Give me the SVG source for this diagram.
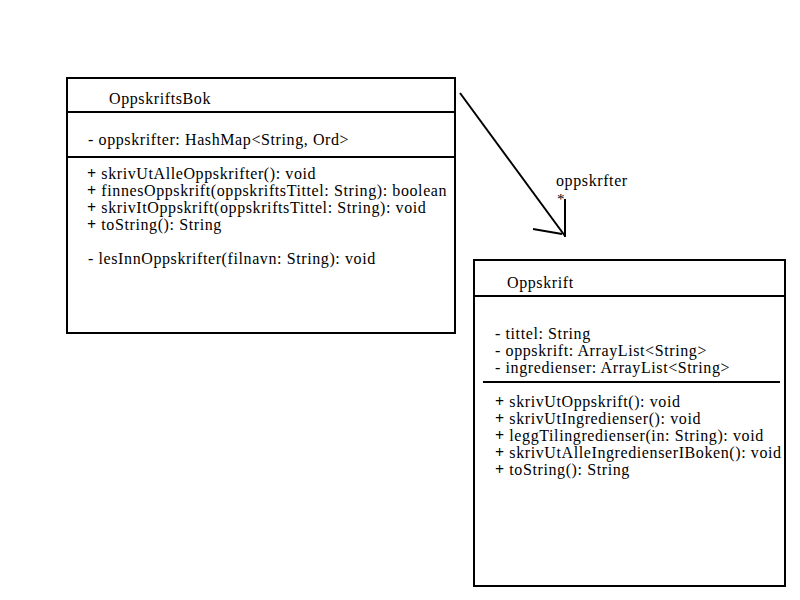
<svg xmlns="http://www.w3.org/2000/svg" width="800" height="600" viewBox="0 0 800 600">
  <style>
    .box { fill: #ffffff; stroke: #000000; stroke-width: 2; }
    .sep { stroke: #000000; stroke-width: 2; fill: none; }
    .t { font-family: "Liberation Serif", "DejaVu Serif", serif; font-size: 16px; letter-spacing: 0.6px; fill: #000000; }
    .p { font-weight: bold; }
    .edge { stroke: #000000; stroke-width: 2; fill: none; }
  </style>
  <rect x="0" y="0" width="800" height="600" fill="#ffffff"/>

  <g id="OppskriftsBok">
    <rect class="box" x="67" y="78" width="388" height="255"/>
    <line class="sep" x1="67" y1="112" x2="455" y2="112"/>
    <line class="sep" x1="67" y1="157" x2="455" y2="157"/>
    <text class="t" x="109" y="104">OppskriftsBok</text>
    <text class="t" x="88" y="145">- oppskrifter: HashMap&lt;String, Ord&gt;</text>
    <text class="t" x="87" y="179"><tspan class="p">+</tspan> skrivUtAlleOppskrifter(): void</text>
    <text class="t" x="87" y="196"><tspan class="p">+</tspan> finnesOppskrift(oppskriftsTittel: String): boolean</text>
    <text class="t" x="87" y="213"><tspan class="p">+</tspan> skrivItOppskrift(oppskriftsTittel: String): void</text>
    <text class="t" x="87" y="230"><tspan class="p">+</tspan> toString(): String</text>
    <text class="t" x="88" y="264">- lesInnOppskrifter(filnavn: String): void</text>
  </g>

  <g id="Oppskrift">
    <rect class="box" x="474" y="260" width="311" height="326"/>
    <line class="sep" x1="474" y1="296" x2="785" y2="296"/>
    <line class="sep" x1="483" y1="382" x2="780" y2="382"/>
    <text class="t" x="507" y="288">Oppskrift</text>
    <text class="t" x="495" y="339">- tittel: String</text>
    <text class="t" x="495" y="356">- oppskrift: ArrayList&lt;String&gt;</text>
    <text class="t" x="495" y="373">- ingredienser: ArrayList&lt;String&gt;</text>
    <text class="t" x="495" y="407"><tspan class="p">+</tspan> skrivUtOppskrift(): void</text>
    <text class="t" x="495" y="424"><tspan class="p">+</tspan> skrivUtIngredienser(): void</text>
    <text class="t" x="495" y="441"><tspan class="p">+</tspan> leggTilingredienser(in: String): void</text>
    <text class="t" x="495" y="458"><tspan class="p">+</tspan>  skrivUtAlleIngredienserIBoken(): void</text>
    <text class="t" x="495" y="475"><tspan class="p">+</tspan> toString(): String</text>
  </g>

  <g id="connectors">
    <line class="edge" x1="460" y1="93" x2="565" y2="236"/>
    <line class="edge" x1="565" y1="199" x2="565" y2="237"/>
    <line class="edge" x1="533" y1="229" x2="562" y2="234"/>
    <text class="t" x="556" y="186">oppskrfter</text>
    <text class="t" x="557" y="204" style="font-size:15px">*</text>
  </g>
</svg>
